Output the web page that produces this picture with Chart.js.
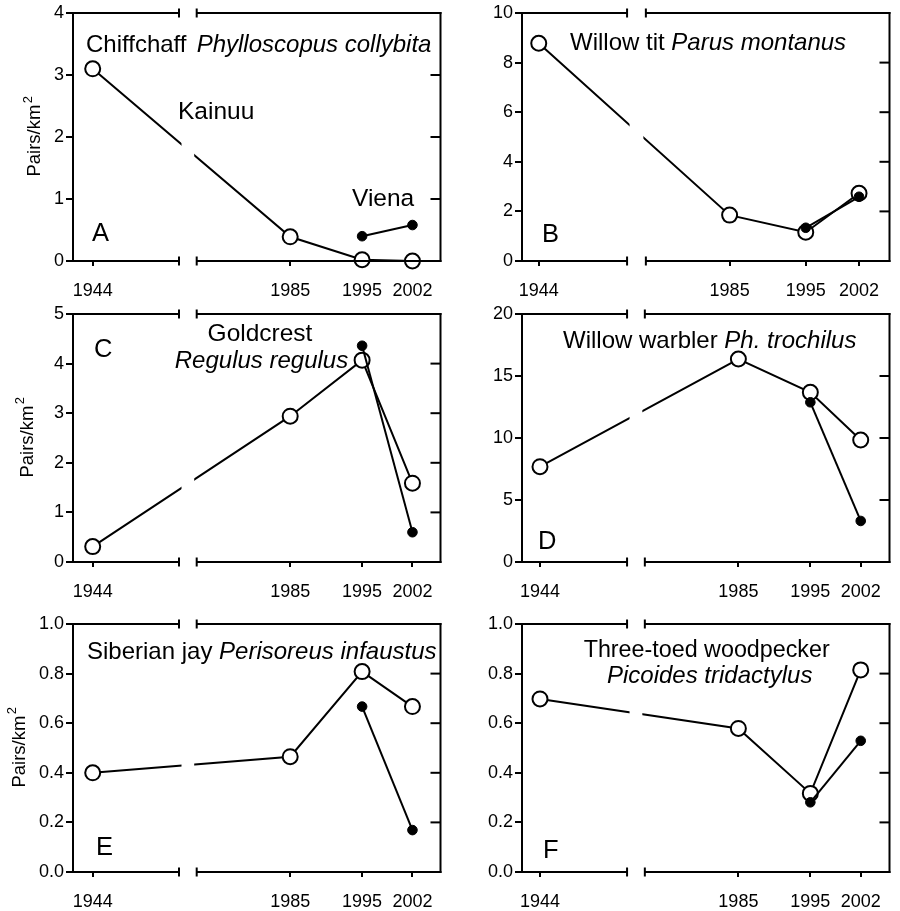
<!DOCTYPE html>
<html><head><meta charset="utf-8">
<script src="https://cdn.jsdelivr.net/npm/chart.js@4.4.1/dist/chart.umd.min.js"></script>
<style>
html,body{margin:0;padding:0;background:#fff;}
#wrap{position:relative;width:900px;height:911px;overflow:hidden;background:#fff;}
canvas{position:absolute;}
</style></head><body><div id="wrap">
<canvas id="cA" width="450" height="300" style="left:0px;top:0px"></canvas>
<canvas id="cB" width="450" height="300" style="left:449px;top:0px"></canvas>
<canvas id="cC" width="450" height="300" style="left:0px;top:301px"></canvas>
<canvas id="cD" width="450" height="300" style="left:449px;top:301px"></canvas>
<canvas id="cE" width="450" height="300" style="left:0px;top:611px"></canvas>
<canvas id="cF" width="450" height="300" style="left:449px;top:611px"></canvas>
</div>
<script>
// ---------- data ----------
const years = [1944, 1985, 1995, 2002];
const vienaYears = [1995, 2002];
const xTickLabels = ['1944', '1985', '1995', '2002'];

const chiffchaffKainuu = [3.10, 0.39, 0.02, 0.00];
const chiffchaffViena = [0.40, 0.58];
const willowTitKainuu = [8.78, 1.85, 1.16, 2.73];
const willowTitViena = [1.34, 2.59];
const goldcrestKainuu = [0.31, 2.94, 4.07, 1.59];
const goldcrestViena = [4.36, 0.60];
const willowWarblerKainuu = [7.69, 16.37, 13.68, 9.84];
const willowWarblerViena = [12.88, 3.31];
const siberianJayKainuu = [0.40, 0.465, 0.808, 0.667];
const siberianJayViena = [0.667, 0.169];
const woodpeckerKainuu = [0.698, 0.579, 0.317, 0.815];
const woodpeckerViena = [0.281, 0.529];

const yTicksA = [0, 1, 2, 3, 4];
const yTicksB = [0, 2, 4, 6, 8, 10];
const yTicksC = [0, 1, 2, 3, 4, 5];
const yTicksD = [0, 5, 10, 15, 20];
const yTicksE = [0, 0.2, 0.4, 0.6, 0.8, 1.0];
const yTicksF = [0, 0.2, 0.4, 0.6, 0.8, 1.0];

// ---------- broken x-axis definitions (year ranges of each segment) ----------
const axisLeftCol = {leftSeg: [1941.26, 1956.0], rightSeg: [1972.0, 2005.9], gap: 2.46};
const axisB = {leftSeg: [1941.8, 1955.6], rightSeg: [1974.0, 2006.0], gap: 2.47};
const axisRightCol = {leftSeg: [1941.5, 1956.1], rightSeg: [1972.0, 2006.0], gap: 2.47};

function toAxis(ax, yr) {
  const lw = ax.leftSeg[1] - ax.leftSeg[0];
  if (yr <= ax.leftSeg[1]) return yr - ax.leftSeg[0];
  return lw + ax.gap + (yr - ax.rightSeg[0]);
}
function axisMax(ax) { return toAxis(ax, ax.rightSeg[1]); }

const FONT = '"Liberation Sans", Arial, Helvetica, sans-serif';
const NOTE_SIZE = 24;

const panels = [
  {id: 'cA', kainuu: chiffchaffKainuu, viena: chiffchaffViena, yTicks: yTicksA, dec: 0, axis: axisLeftCol, rightPad: 3,
   yTitleX: 35,
   texts: [
     {runs: [['Chiffchaff ', 0, 3.5], ['Phylloscopus collybita', 1, 0]], x: 86, y: 52, align: 'left'},
     {runs: [['Kainuu', 0, 0]], x: 178, y: 119, align: 'left', size: 24.5},
     {runs: [['Viena', 0, 0]], x: 352, y: 206, align: 'left', size: 24.5}
   ],
   letter: {t: 'A', x: 92, y: 241}},
  {id: 'cB', kainuu: willowTitKainuu, viena: willowTitViena, yTicks: yTicksB, dec: 0, axis: axisB, rightPad: 5,
   yTitleX: null,
   texts: [
     {runs: [['Willow tit ', 0, 0], ['Parus montanus', 1, 0]], x: 121, y: 50, align: 'left'}
   ],
   letter: {t: 'B', x: 93, y: 242}},
  {id: 'cC', kainuu: goldcrestKainuu, viena: goldcrestViena, yTicks: yTicksC, dec: 0, axis: axisLeftCol, rightPad: 3,
   yTitleX: 27.5,
   texts: [
     {runs: [['Goldcrest', 0, 0]], x: 260, y: 40, align: 'center', size: 24.5},
     {runs: [['Regulus regulus', 1, 0]], x: 261.5, y: 67, align: 'center'}
   ],
   letter: {t: 'C', x: 94, y: 56}},
  {id: 'cD', kainuu: willowWarblerKainuu, viena: willowWarblerViena, yTicks: yTicksD, dec: 0, axis: axisRightCol, rightPad: 5,
   yTitleX: null,
   texts: [
     {runs: [['Willow warbler ', 0, 0], ['Ph. trochilus', 1, 0]], x: 114, y: 47, align: 'left'}
   ],
   letter: {t: 'D', x: 89, y: 248}},
  {id: 'cE', kainuu: siberianJayKainuu, viena: siberianJayViena, yTicks: yTicksE, dec: 1, axis: axisLeftCol, rightPad: 3,
   yTitleX: 19.5,
   texts: [
     {runs: [['Siberian jay ', 0, 0], ['Perisoreus infaustus', 1, 0]], x: 87, y: 48, align: 'left'}
   ],
   letter: {t: 'E', x: 96, y: 244}},
  {id: 'cF', kainuu: woodpeckerKainuu, viena: woodpeckerViena, yTicks: yTicksF, dec: 1, axis: axisRightCol, rightPad: 5,
   yTitleX: null,
   texts: [
     {runs: [['Three-toed woodpecker', 0, 0]], x: 257.7, y: 46, align: 'center', size: 23.3},
     {runs: [['Picoides tridactylus', 1, 0]], x: 260.7, y: 72, align: 'center'}
   ],
   letter: {t: 'F', x: 94, y: 247}}
];

function drawRuns(ctx, runs, x, y, align, size) {
  const widths = runs.map(r => { ctx.font = (r[1] ? 'italic ' : '') + size + 'px ' + FONT; return ctx.measureText(r[0]).width + (r[2] || 0); });
  const total = widths.reduce((a, b) => a + b, 0);
  let cx = align === 'center' ? x - total / 2 : x;
  ctx.textAlign = 'left';
  ctx.textBaseline = 'alphabetic';
  runs.forEach((r, k) => {
    ctx.font = (r[1] ? 'italic ' : '') + size + 'px ' + FONT;
    ctx.fillText(r[0], cx, y);
    cx += widths[k];
  });
}

const framePlugin = {
  id: 'brokenFrame',
  afterDatasetsDraw(chart, args, opts) {
    const ctx = chart.ctx, ca = chart.chartArea, xs = chart.scales.x, ys = chart.scales.y;
    const ax = opts.axis;
    const bL = xs.getPixelForValue(ax.leftSeg[1] - ax.leftSeg[0]);
    const bR = xs.getPixelForValue(ax.leftSeg[1] - ax.leftSeg[0] + ax.gap);
    const line = (x1, y1, x2, y2) => { ctx.beginPath(); ctx.moveTo(x1, y1); ctx.lineTo(x2, y2); ctx.stroke(); };
    ctx.save();
    // gap in the data line at the axis break
    ctx.fillStyle = '#fff';
    ctx.fillRect(bL + 2.5, ca.top + 2, bR - bL - 5, ca.bottom - ca.top - 4);
    ctx.strokeStyle = '#000';
    ctx.lineWidth = 2;
    ctx.lineCap = 'butt';
    for (const yy of [ca.top, ca.bottom]) {
      line(ca.left - 1, yy, bL, yy);
      line(bR, yy, ca.right + 1, yy);
      line(bL, yy - 4.5, bL, yy + 4.5);
      line(bR, yy - 4.5, bR, yy + 4.5);
    }
    line(ca.right, ca.top - 1, ca.right, ca.bottom + 1);
    ys.ticks.forEach(t => {
      const p = ys.getPixelForValue(t.value);
      line(ca.right - 10, p, ca.right, p);
    });
    // texts
    ctx.fillStyle = '#000';
    opts.texts.forEach(t => drawRuns(ctx, t.runs, t.x, t.y, t.align, t.size || NOTE_SIZE));
    drawRuns(ctx, [[opts.letter.t, 0, 0]], opts.letter.x, opts.letter.y, 'left', 25.5);
    if (opts.yTitleX !== null) {
      ctx.save();
      const cy = (ca.top + ca.bottom) / 2;
      ctx.translate(opts.yTitleX, cy);
      ctx.rotate(-Math.PI / 2);
      ctx.font = '18.5px ' + FONT;
      const w1 = ctx.measureText('Pairs/km').width;
      ctx.font = '13px ' + FONT;
      const w2 = ctx.measureText('2').width;
      const start = -(w1 + w2) / 2;
      ctx.textAlign = 'left';
      ctx.textBaseline = 'middle';
      ctx.font = '18.5px ' + FONT;
      ctx.fillText('Pairs/km', start, 0);
      ctx.font = '13px ' + FONT;
      ctx.fillText('2', start + w1 + 1.5, -7);
      ctx.restore();
    }
    ctx.restore();
  }
};

panels.forEach(p => {
  const ax = p.axis;
  const kData = years.map((yr, i) => ({x: toAxis(ax, yr), y: p.kainuu[i]}));
  const vData = vienaYears.map((yr, i) => ({x: toAxis(ax, yr), y: p.viena[i]}));
  new Chart(document.getElementById(p.id), {
    type: 'line',
    data: {
      datasets: [
        {label: 'Viena', data: vData, order: 0, borderColor: '#000', borderWidth: 2,
         pointRadius: 4.8, pointBackgroundColor: '#000', pointBorderColor: '#000', pointBorderWidth: 1,
         tension: 0, clip: false, fill: false},
        {label: 'Kainuu', data: kData, order: 1, borderColor: '#000', borderWidth: 2,
         pointRadius: 7.5, pointBackgroundColor: '#fff', pointBorderColor: '#000', pointBorderWidth: 2,
         tension: 0, clip: false, fill: false}
      ]
    },
    options: {
      responsive: false, animation: false, devicePixelRatio: 1, events: [],
      layout: {padding: {left: 0, top: 13, right: p.rightPad, bottom: 0}},
      plugins: {legend: {display: false}, tooltip: {enabled: false},
        brokenFrame: {axis: ax, texts: p.texts, letter: p.letter, yTitleX: p.yTitleX}},
      scales: {
        x: {type: 'linear', min: 0, max: axisMax(ax),
          afterBuildTicks: s => { s.ticks = years.map(yr => ({value: toAxis(ax, yr)})); },
          afterFit: s => { s.height = 39; },
          ticks: {autoSkip: false, maxRotation: 0, padding: 14, color: '#000',
            font: {family: FONT, size: 18},
            callback: (v, i) => xTickLabels[i]},
          grid: {display: true, drawOnChartArea: false, drawTicks: true, tickLength: 5, color: '#000', lineWidth: 2},
          border: {display: false}},
        y: {type: 'linear', min: 0, max: p.yTicks[p.yTicks.length - 1],
          afterBuildTicks: s => { s.ticks = p.yTicks.map(v => ({value: v})); },
          afterFit: s => { s.width = 73; },
          ticks: {padding: 2, color: '#000', font: {family: FONT, size: 18},
            callback: v => Number(v).toFixed(p.dec)},
          grid: {display: true, drawOnChartArea: false, drawTicks: true, tickLength: 7, color: '#000', lineWidth: 2},
          border: {display: true, color: '#000', width: 2}}
      }
    },
    plugins: [framePlugin]
  });
});
</script>
</body></html>
